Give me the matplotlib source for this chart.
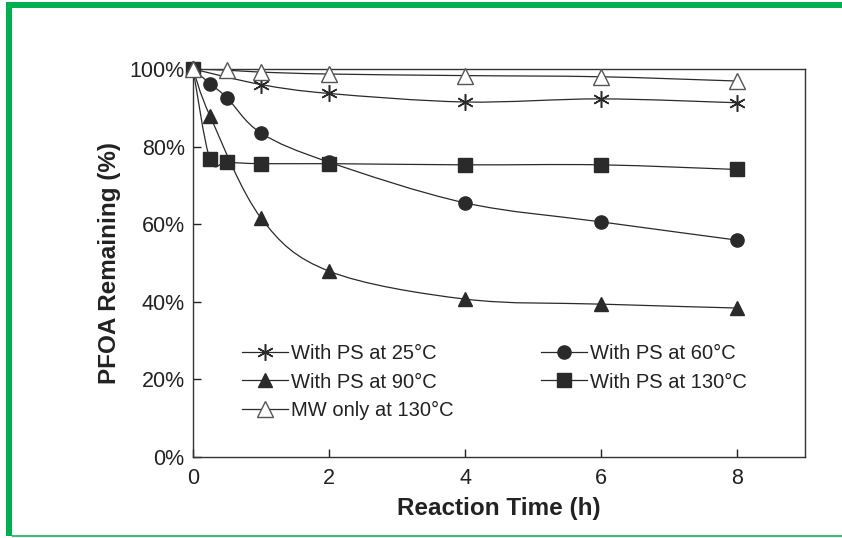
import numpy as np
import matplotlib
matplotlib.use("Agg")
import matplotlib.pyplot as plt
from matplotlib.path import Path
from matplotlib.patches import PathPatch, Rectangle
from matplotlib.lines import Line2D
from matplotlib.ticker import PercentFormatter

plt.rcParams['font.family'] = ['Liberation Sans', 'DejaVu Sans']

# data (time in h, PFOA remaining in %)
t_25 = [0, 1, 2, 4, 6, 8]
ps_25 = [100, 96.0, 93.7, 91.5, 92.3, 91.3]

t_60 = [0, 0.25, 0.5, 1, 2, 4, 6, 8]
ps_60 = [100, 96.2, 92.6, 83.5, 76.0, 65.5, 60.6, 55.9]

t_90 = [0, 0.25, 1, 2, 4, 6, 8]
ps_90 = [100, 87.9, 61.6, 47.9, 40.7, 39.4, 38.4]

t_130 = [0, 0.25, 0.5, 1, 2, 4, 6, 8]
ps_130 = [100, 76.7, 76.0, 75.6, 75.6, 75.3, 75.3, 74.1]

t_mw = [0, 0.5, 1, 2, 4, 6, 8]
mw_130 = [100, 99.7, 99.2, 98.7, 98.3, 98.0, 96.9]

labels = ["With PS at 25°C", "With PS at 60°C", "With PS at 90°C",
          "With PS at 130°C", "MW only at 130°C"]

LINE = "#2a2a2a"


def smooth_path(x, y):
    # excel-like smoothed line: cubic bezier through every point
    pts = np.column_stack([x, y]).astype(float)
    verts = [pts[0]]
    codes = [Path.MOVETO]
    n = len(pts)
    for i in range(n - 1):
        p0 = pts[i - 1] if i > 0 else pts[i]
        p3 = pts[i + 2] if i + 2 < n else pts[i + 1]
        c1 = pts[i] + (pts[i + 1] - p0) / 6.
        c2 = pts[i + 1] - (p3 - pts[i]) / 6.
        verts += [c1, c2, pts[i + 1]]
        codes += [Path.CURVE4] * 3
    return Path(verts, codes)


fig = plt.figure(figsize=(8.42, 5.38), dpi=100)
ax = fig.add_axes([193 / 842, 1 - 457 / 538, 612 / 842, 388 / 538])

series = [
    (t_25, ps_25, dict(marker=(6, 2, 0), ms=12, mfc="none", mec=LINE, mew=1.1)),
    (t_60, ps_60, dict(marker="o", ms=9.5, mfc=LINE, mec=LINE)),
    (t_90, ps_90, dict(marker="^", ms=10.5, mfc=LINE, mec=LINE)),
    (t_130, ps_130, dict(marker="s", ms=9.5, mfc=LINE, mec=LINE)),
    (t_mw, mw_130, dict(marker="^", ms=11, mfc="white", mec="#555555", mew=1.0)),
]

handles = []
for (x, y, style), lab in zip(series, labels):
    ax.add_patch(PathPatch(smooth_path(x, y), fill=False, ec=LINE, lw=0.9,
                           transform=ax.transData, zorder=2))
    ax.plot(x, y, ls="none", zorder=3, clip_on=False, **style)
    handles.append(Line2D([], [], color=LINE, lw=0.9, **style))

ax.set_xlim(0, 9)
ax.set_ylim(0, 100)
ax.set_xticks([0, 2, 4, 6, 8])
ax.set_yticks([0, 20, 40, 60, 80, 100])
ax.yaxis.set_major_formatter(PercentFormatter(decimals=0))
ax.tick_params(direction="in", length=6, width=1, labelsize=15.5,
               colors="#222222", pad=6)
ax.tick_params(axis="x", pad=8)
for sp in ax.spines.values():
    sp.set_color("#333333")
    sp.set_linewidth(1.0)

ax.set_xlabel("Reaction Time (h)", fontsize=17.5, fontweight="bold",
              color="#222222", labelpad=6)
ax.set_ylabel("PFOA Remaining (%)", fontsize=17.5, fontweight="bold",
              color="#222222", labelpad=6)

order = [0, 2, 4, 1, 3]
ax.legend([handles[i] for i in order], [labels[i] for i in order],
          ncol=2, frameon=False, loc="upper left",
          bbox_to_anchor=(0.08, 0.29), borderpad=0, borderaxespad=0,
          handlelength=2.3, handletextpad=0.15, labelspacing=0.45,
          columnspacing=4.3, fontsize=14.5, labelcolor="#222222")

# green frame around the picture
fig.patches.append(Rectangle((6 / 842, 1 - 8 / 538), 836 / 842, 6 / 538,
                             transform=fig.transFigure, color="#00b050", lw=0))
fig.patches.append(Rectangle((6 / 842, 1 - 536 / 538), 6 / 842, 530 / 538,
                             transform=fig.transFigure, color="#00b050", lw=0))
fig.patches.append(Rectangle((12 / 842, 1 - 537 / 538), 830 / 842, 2 / 538,
                             transform=fig.transFigure, color="#3cbf6e", lw=0))

fig.savefig("out.png", dpi=100)
